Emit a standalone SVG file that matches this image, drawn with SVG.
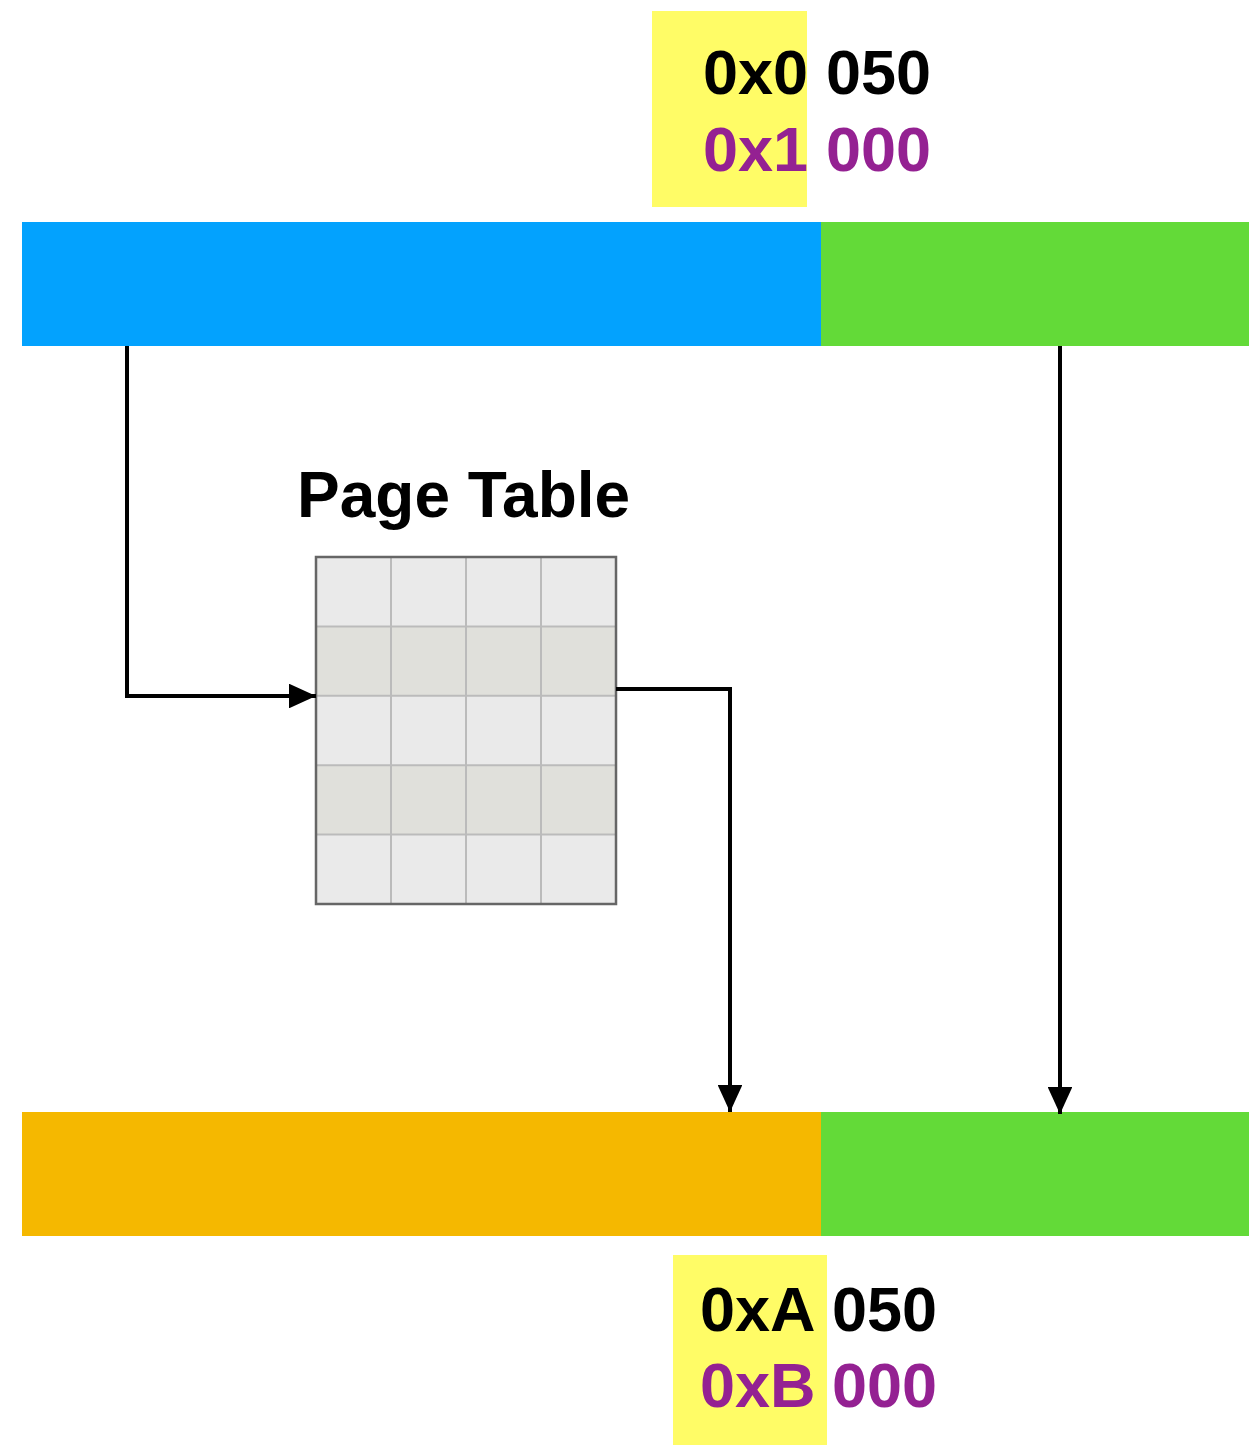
<svg xmlns="http://www.w3.org/2000/svg" width="1249" height="1445" viewBox="0 0 1249 1445">
<defs>
<style>
.t{font-family:"Liberation Sans",Arial,sans-serif;font-weight:bold;font-size:63px}
.k{fill:#000}
.p{fill:#942192}
.hl{fill:#FFFC66}
.cl{stroke:#000;stroke-width:4;fill:none}
.g{stroke:#bbbbbb;stroke-width:2}
</style>
<marker id="ah" markerWidth="7" markerHeight="6.2" refX="6.8" refY="3.1" orient="auto" markerUnits="strokeWidth">
<path d="M0,0 L6.8,3.1 L0,6.2 Z" fill="#000"/>
</marker>
</defs>
<rect width="1249" height="1445" fill="#fff"/>
<g id="virtual-address-label">
<rect class="hl" x="652" y="11" width="155" height="196"/>
<text class="t k" x="703" y="94">0x0</text>
<text class="t k" x="826" y="94">050</text>
<text class="t p" x="703" y="171">0x1</text>
<text class="t p" x="826" y="171">000</text>
</g>
<g id="virtual-address-bar">
<rect x="22" y="222" width="799" height="124" fill="#03A2FE"/>
<rect x="821" y="222" width="428" height="124" fill="#63DA38"/>
</g>
<g id="page-table">
<text class="t k" x="297" y="517" style="font-size:64px">Page Table</text>
<rect x="316" y="557" width="300" height="347" fill="#eaeaea"/>
<rect x="316" y="626.4" width="300" height="69.4" fill="#e0e0db"/>
<rect x="316" y="765.2" width="300" height="69.4" fill="#e0e0db"/>
<line class="g" x1="391" y1="557" x2="391" y2="904"/>
<line class="g" x1="466" y1="557" x2="466" y2="904"/>
<line class="g" x1="541" y1="557" x2="541" y2="904"/>
<line class="g" x1="316" y1="626.4" x2="616" y2="626.4"/>
<line class="g" x1="316" y1="695.8" x2="616" y2="695.8"/>
<line class="g" x1="316" y1="765.2" x2="616" y2="765.2"/>
<line class="g" x1="316" y1="834.6" x2="616" y2="834.6"/>
<rect x="316" y="557" width="300" height="347" fill="none" stroke="#666" stroke-width="2.5"/>
</g>
<g id="physical-address-bar">
<rect x="22" y="1112" width="799" height="124" fill="#F5B800"/>
<rect x="821" y="1112" width="428" height="124" fill="#63DA38"/>
</g>
<g id="physical-address-label">
<rect class="hl" x="673" y="1255" width="154" height="190"/>
<text class="t k" x="700" y="1331">0xA</text>
<text class="t k" x="832" y="1331">050</text>
<text class="t p" x="700" y="1407">0xB</text>
<text class="t p" x="832" y="1407">000</text>
</g>
<g id="connectors">
<path class="cl" d="M127,346 V696 H316" marker-end="url(#ah)"/>
<path class="cl" d="M616,689 H730 V1112" marker-end="url(#ah)"/>
<path class="cl" d="M1060,346 V1114" marker-end="url(#ah)"/>
</g>
</svg>
